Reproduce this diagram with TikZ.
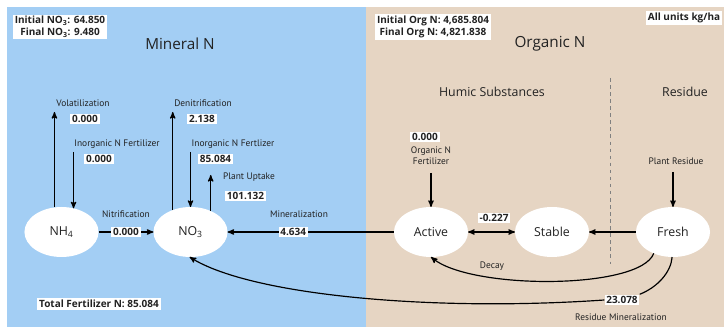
\documentclass[tikz,border=0pt]{standalone}
\usepackage{fontspec}
\setmainfont{Open Sans}
\newfontfamily\lblfont{PT Sans}
\usetikzlibrary{shapes.geometric,arrows,backgrounds}

\definecolor{mineralbg}{RGB}{163,206,244}
\definecolor{organicbg}{RGB}{230,213,195}
\definecolor{ink}{RGB}{34,34,34}

\begin{document}
\begin{tikzpicture}[x=0.85pt,y=-0.85pt,
    pool/.style={ellipse,fill=white,minimum width=63pt,minimum height=42.5pt,
      inner sep=0pt,outer sep=0pt,text=ink,font=\fontsize{10.5}{12}\selectfont},
    val/.style={fill=white,inner sep=1.5pt,text=ink,font=\bfseries\fontsize{8.5}{10}\selectfont},
    lbl/.style={inner sep=0pt,align=center,text=ink,font=\lblfont\fontsize{8}{9.5}\selectfont},
    title/.style={text=ink,font=\fontsize{13}{15}\selectfont},
    subtitle/.style={text=ink,font=\fontsize{10.5}{12}\selectfont},
    flow/.style={-stealth',line width=1pt}]
  \useasboundingbox (0,0) rectangle (724,330);

  % the two halves
  \fill[mineralbg] (7,7) rectangle (366,327);
  \fill[organicbg] (366,7) rectangle (724,327);
  \draw[gray,dashed,line width=0.6pt] (610,78) -- (610,264);

  % headings
  \node[val,align=center] (nobox) at (60,27) {Initial NO\textsubscript{3}: 64.850\\Final NO\textsubscript{3}: 9.480};
  \node[val,align=center] (orgbox) at (433,27) {Initial Org N: 4,685.804\\Final Org N: 4,821.838};
  \node[val] (units) at (684,18) {All units kg/ha};
  \node[title] (mineral) at (180,44) {Mineral N};
  \node[title] (organic) at (550,44) {Organic N};
  \node[subtitle] (humic) at (492,92) {Humic Substances};
  \node[subtitle] (residue) at (685,92) {Residue};
  \node[val] (totfert) at (99,304) {Total Fertilizer N: 85.084};

  % pools
  \node[pool] (nh4) at (61.5,232) {NH\textsubscript{4}};
  \node[pool] (no3) at (190.5,232) {NO\textsubscript{3}};
  \node[pool] (active) at (431,232) {Active};
  \node[pool] (stable) at (552,232) {Stable};
  \node[pool] (fresh) at (673,232) {Fresh};

  % NH4 in and out
  \coordinate (volout) at (nh4.106 |- 0,112);
  \coordinate (fertnh4) at (nh4.63 |- 0,152);
  \draw[flow] (nh4.106) -- (volout);
  \draw[flow] (fertnh4) -- (nh4.63);
  \node[lbl] (vollbl) at (83,103) {Volatilization};
  \node[val] (volval) at (85,119) {0.000};
  \node[lbl] (fertnh4lbl) at (117,144) {Inorganic N Fertilizer};
  \node[val] (fertnh4val) at (99,159) {0.000};

  % NO3 in and out
  \coordinate (denout) at (no3.129.5 |- 0,112);
  \coordinate (fertno3) at (no3.90 |- 0,152);
  \coordinate (upout) at (no3.46 |- 0,175);
  \draw[flow] (no3.129.5) -- (denout);
  \draw[flow] (fertno3) -- (no3.90);
  \draw[flow] (no3.46) -- (upout);
  \node[lbl] (denlbl) at (203,103) {Denitrification};
  \node[val] (denval) at (202,119) {2.138};
  \node[lbl] (fertno3lbl) at (233,144) {Inorganic N Fertlizer};
  \node[val] (fertno3val) at (215.5,159) {85.084};
  \node[lbl] (uplbl) at (249,177) {Plant Uptake};
  \node[val] (upval) at (245.5,196) {101.132};

  % between pools
  \draw[flow] (nh4) -- node[val] (nitval) {0.000} (no3);
  \node[lbl] (nitlbl) at (126,214) {Nitrification};
  \draw[flow] (active) -- node[val,pos=0.605] (minval) {4.634} (no3);
  \node[lbl] (minlbl) at (299,214) {Mineralization};
  \draw[stealth'-stealth',line width=1pt] (active) -- (stable);
  \node[val] (humval) at (494,218) {-0.227};
  \draw[flow] (fresh) -- (stable);

  % organic inputs
  \coordinate (orgfert) at (active.90 |- 0,173);
  \coordinate (plantres) at (fresh.90 |- 0,172);
  \draw[flow] (orgfert) -- (active.90);
  \draw[flow] (plantres) -- (fresh.90);
  \node[val] (orgval) at (425,137) {0.000};
  \node[lbl] (orglbl) at (431,156) {Organic N\\Fertilizer};
  \node[lbl] (reslbl) at (676,161) {Plant Residue};

  % decay and residue mineralization
  \draw[flow] (fresh.228) .. controls (640,290) and (470,290) .. (active.270);
  \node[lbl] (decaylbl) at (492,266) {Decay};
  \node[val] (resval) at (622,300) {23.078};
  \draw[line width=1pt] (fresh.268) .. controls (671,272) and (658,287) .. (resval.north east);
  \draw[flow] (resval.west) .. controls (430,312) and (250,295) .. (no3.268);
  \node[lbl] (resminlbl) at (621,317) {Residue Mineralization};
\end{tikzpicture}
\end{document}
